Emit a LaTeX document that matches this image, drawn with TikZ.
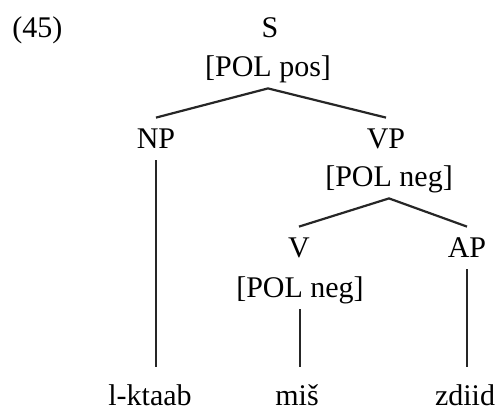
\documentclass[tikz,border=0pt]{standalone}
\usepackage{fontspec}
\setmainfont{Liberation Serif}

\begin{document}
\begin{tikzpicture}[
    x=0.5pt,
    y=-0.5pt,
    every node/.style={font=\fontsize{15}{18}\selectfont},
    cat/.style={
        anchor=base,
        inner xsep=0pt,
        inner ysep=5pt,
        text height=10pt,
        text depth=1pt
    },
    leaf/.style={
        cat,
        text height=14pt
    },
    branch/.style={
        line width=1.1pt,
        draw=black!85
    }
]
    \useasboundingbox (0,0) rectangle (497,414);

    % Example number
    \node[anchor=base west, inner sep=0pt] (exnum) at (12,37) {(45)};

    % Root
    \node[cat] (S) at (270,37) {S};
    \node[cat] (Spol) at (268,76) {[POL pos]};

    % Daughters of S
    \node[cat] (NP) at (156,148) {NP};
    \node[cat] (VP) at (386,148) {VP};
    \node[cat] (VPpol) at (389,186) {[POL neg]};

    % Daughters of VP
    \node[cat] (V) at (299,257) {V};
    \node[cat] (Vpol) at (300,297) {[POL neg]};
    \node[cat] (AP) at (467,257) {AP};

    % Words
    \node[leaf] (lktaab) at (150,405) {l-ktaab};
    \node[leaf] (mis) at (297,405) {miš};
    \node[leaf] (zdiid) at (465,405) {zdiid};

    % Branches
    \draw[branch] (NP.north) -- (Spol.south) -- (VP.north);
    \draw[branch] (V.north) -- (VPpol.south) -- (AP.north);
    \draw[branch] (NP.south) -- (NP.south |- lktaab.north);
    \draw[branch] (Vpol.south) -- (Vpol.south |- mis.north);
    \draw[branch] (AP.south) -- (AP.south |- zdiid.north);

\end{tikzpicture}
\end{document}
